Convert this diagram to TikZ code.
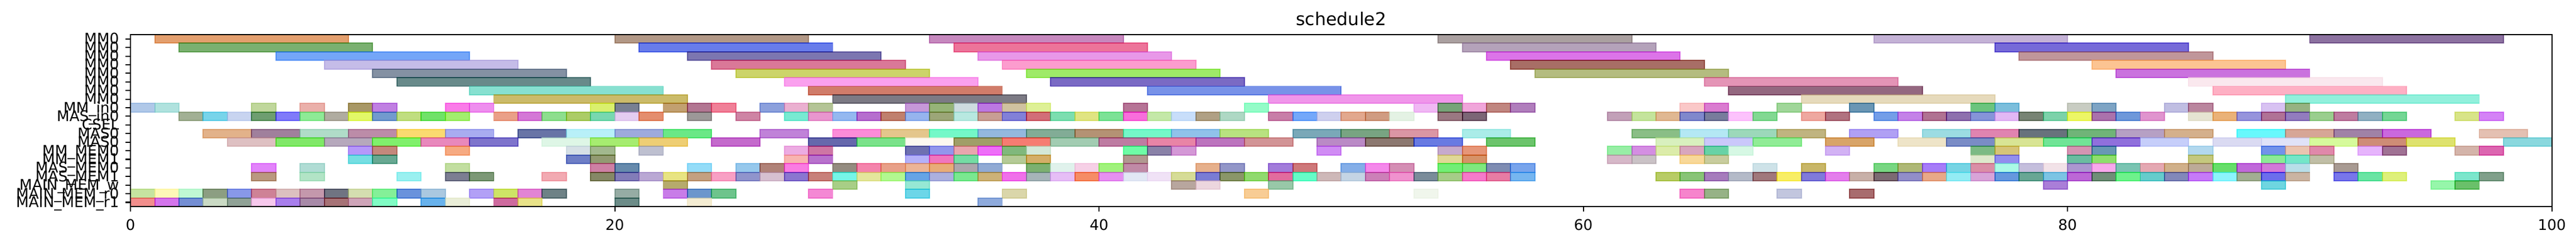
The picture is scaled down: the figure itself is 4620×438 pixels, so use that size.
\documentclass[tikz,border=0pt]{standalone}
\usepackage{fontspec}
\setmainfont{DejaVu Sans}
\tikzset{
	bar/.style={fill opacity=0.6, draw opacity=0.6, line width=0.55pt},
	spine/.style={line width=0.6pt, black},
	ylab/.style={anchor=base east, font=\fontsize{7.5}{9}\selectfont, inner sep=0pt, xshift=-0.2cm, yshift=-0.09cm},
	xlab/.style={anchor=base, font=\fontsize{7.5}{9}\selectfont, inner sep=0pt, yshift=-0.42cm},
}

\begin{document}
\begin{tikzpicture}[x=0.01cm, y=-0.01cm]
	\useasboundingbox (0,0) rectangle (4620,438);
	\begin{scope}[xshift=2.34cm, yshift=-0.62cm, x=0.434cm, y=-0.154cm]
		% row/start/end/shown R/G/B
		\foreach \row/\ts/\te/\colR/\colG/\colB in {
			0/1/9/227/159/110, 0/20/28/178/152/134, 0/33/41/198/136/190, 0/54/62/170/160/160, 0/72/80/196/178/214, 0/90/98/140/114/160,
			1/2/10/122/176/112, 1/21/29/104/124/234, 1/34/42/236/116/154, 1/55/63/180/162/186, 1/77/85/118/106/216,
			2/6/14/116/166/248, 2/23/31/124/118/176, 2/35/43/232/152/232, 2/56/64/220/116/232, 2/78/86/192/150/154,
			3/8/16/197/188/232, 3/24/32/218/120/152, 3/36/44/252/156/206, 3/57/65/168/110/102, 3/81/89/252/196/146,
			4/10/18/132/145/163, 4/25/33/204/212/106, 4/37/45/158/234/104, 4/58/66/180/188/128, 4/82/90/202/114/222,
			5/11/19/104/138/138, 5/27/35/250/160/238, 5/38/46/122/106/196, 5/65/73/228/148/182, 5/85/93/250/232/238,
			6/14/22/135/224/208, 6/28/36/208/124/106, 6/42/50/120/146/232, 6/66/74/148/104/128, 6/86/94/254/176/196,
			7/15/23/203/187/106, 7/29/37/124/122/132, 7/47/55/240/150/234, 7/69/77/230/218/188, 7/89/97/146/240/220,
			8/0/1/176/200/232, 8/1/2/176/226/222, 8/5/6/192/215/156, 8/7/8/234/176/170, 8/9/10/168/152/100, 8/10/11/192/128/226,
			8/13/14/250/124/232, 8/14/15/238/142/238, 8/19/20/218/240/110, 8/20/21/120/128/146, 8/22/23/194/160/112, 8/23/24/178/118/146,
			8/24/25/240/128/152, 8/26/27/140/160/220, 8/27/28/234/176/208, 8/28/29/180/196/150, 8/32/33/198/152/216, 8/33/34/150/180/120,
			8/34/35/206/220/224, 8/35/36/188/120/226, 8/36/37/208/194/160, 8/37/38/222/240/150, 8/41/42/182/116/150, 8/46/47/148/252/200,
			8/53/54/240/184/244, 8/54/55/118/164/120, 8/55/56/240/166/218, 8/56/57/192/134/128, 8/57/58/176/126/188, 8/64/65/250/200/200,
			8/65/66/218/124/208, 8/68/69/160/214/154, 8/71/72/106/150/180, 8/76/77/108/196/126, 8/77/78/124/190/220, 8/80/81/200/204/194,
			8/81/82/126/164/196, 8/84/85/192/190/226, 8/85/86/186/134/158, 8/88/89/216/194/242, 8/89/90/150/178/130,
			9/2/3/162/176/148, 9/3/4/120/212/234, 9/4/5/200/212/240, 9/5/6/110/158/112, 9/6/7/128/122/250, 9/7/8/142/234/150,
			9/8/9/176/172/160, 9/9/10/226/248/104, 9/10/11/114/154/206, 9/11/12/192/222/128, 9/12/13/112/226/104, 9/13/14/162/238/110,
			9/15/16/234/160/136, 9/16/17/212/120/214, 9/17/18/142/222/142, 9/18/19/172/204/98, 9/19/20/120/216/176, 9/20/21/228/204/240,
			9/21/22/228/142/110, 9/23/24/156/152/152, 9/25/26/206/132/164, 9/27/28/120/234/210, 9/28/29/232/150/206, 9/29/30/148/184/240,
			9/30/31/182/110/206, 9/31/32/192/128/110, 9/32/33/150/180/238, 9/33/34/156/166/120, 9/34/35/184/232/224, 9/35/36/200/158/148,
			9/36/37/130/128/216, 9/37/38/210/110/120, 9/38/39/124/222/176, 9/39/40/224/228/130, 9/40/41/124/226/150, 9/41/42/248/110/220,
			9/42/43/196/232/168, 9/43/44/200/222/250, 9/44/45/176/160/132, 9/45/46/174/216/196, 9/47/48/200/126/168, 9/48/49/116/168/250,
			9/49/50/206/208/238, 9/50/51/226/168/142, 9/51/52/208/156/130, 9/52/53/228/242/228, 9/54/55/154/120/130, 9/55/56/124/100/118,
			9/61/62/194/160/184, 9/62/63/196/228/156, 9/63/64/224/184/146, 9/64/65/128/136/204, 9/65/66/120/124/156, 9/66/67/252/194/252,
			9/67/68/130/216/146, 9/69/70/238/168/160, 9/70/71/176/114/128, 9/72/73/116/158/232, 9/73/74/196/130/232, 9/74/75/176/114/146,
			9/75/76/142/112/174, 9/76/77/134/148/216, 9/77/78/226/184/244, 9/78/79/120/132/116, 9/79/80/124/210/170, 9/80/81/236/246/100,
			9/81/82/170/114/172, 9/82/83/110/152/218, 9/83/84/224/148/206, 9/85/86/230/228/210, 9/86/87/234/178/120, 9/87/88/150/148/220,
			9/88/89/176/114/150, 9/89/90/146/124/190, 9/90/91/154/206/142, 9/91/92/190/124/160, 9/92/93/144/176/194, 9/93/94/116/214/148,
			9/96/97/216/228/136, 9/97/98/212/130/246,
			11/3/5/226/178/138, 11/5/7/160/128/156, 11/7/9/176/220/200, 11/9/11/188/140/168, 11/11/13/250/218/112, 11/13/15/168/172/240,
			11/16/18/104/116/166, 11/18/20/184/240/248, 11/20/22/158/170/220, 11/22/24/106/232/134, 11/26/28/192/130/216, 11/29/31/252/140/216,
			11/31/33/228/198/140, 11/33/35/116/248/200, 11/35/37/148/184/222, 11/37/39/130/172/150, 11/39/41/180/146/116, 11/41/43/116/248/200,
			11/43/45/144/194/234, 11/45/47/184/226/128, 11/48/50/122/168/184, 11/50/52/120/164/130, 11/52/54/218/150/164, 11/55/57/170/236/232,
			11/62/64/138/190/134, 11/64/66/180/232/244, 11/66/68/156/216/186, 11/68/70/192/180/128, 11/71/73/176/160/244, 11/74/76/156/220/226,
			11/76/78/224/132/176, 11/78/80/104/114/124, 11/80/82/112/180/120, 11/82/84/182/160/196, 11/84/86/212/176/140, 11/87/89/104/248/252,
			11/89/91/214/166/150, 11/91/93/160/130/166, 11/93/95/202/104/222, 11/97/99/228/192/178,
			12/4/6/222/192/194, 12/6/8/128/232/104, 12/8/10/182/168/188, 12/10/12/128/240/108, 12/12/14/232/136/188, 12/14/16/126/116/204,
			12/17/19/222/246/230, 12/19/21/166/236/112, 12/21/23/238/206/116, 12/24/26/196/106/204, 12/28/30/102/104/172, 12/30/32/122/226/138,
			12/32/34/252/248/240, 12/34/36/160/158/104, 12/36/38/246/124/114, 12/38/40/162/204/178, 12/40/42/190/124/162, 12/42/44/232/132/166,
			12/44/46/188/116/190, 12/46/48/210/148/150, 12/49/51/186/138/198, 12/51/53/140/120/112, 12/53/55/104/122/226, 12/56/58/108/196/108,
			12/63/65/216/240/190, 12/65/67/202/200/250, 12/67/69/144/236/150, 12/70/72/216/164/104, 12/73/75/238/228/200, 12/75/77/122/140/198,
			12/77/79/216/228/148, 12/79/81/112/228/150, 12/81/83/144/112/220, 12/83/85/198/206/250, 12/86/88/218/218/242, 12/88/90/224/226/248,
			12/90/92/214/250/156, 12/92/94/206/140/118, 12/94/96/222/226/110, 12/98/100/138/216/222,
			13/9/10/182/152/250, 13/10/11/196/136/124, 13/13/14/246/170/130, 13/18/19/214/224/230, 13/19/20/162/184/142, 13/21/22/190/192/208,
			13/27/28/236/172/226, 13/28/29/206/118/164, 13/32/33/110/112/176, 13/33/34/146/150/236, 13/34/35/232/166/174, 13/35/36/238/110/248,
			13/36/37/128/184/124, 13/37/38/212/232/216, 13/41/42/110/252/166, 13/42/43/138/130/168, 13/43/44/212/152/214, 13/49/50/208/140/244,
			13/54/55/198/170/204, 13/55/56/230/150/120, 13/61/62/152/238/166, 13/62/63/212/142/226, 13/63/64/220/236/170, 13/64/65/216/166/190,
			13/65/66/104/210/166, 13/66/67/214/248/228, 13/70/71/210/178/244, 13/76/77/124/186/132, 13/77/78/214/196/120, 13/80/81/212/148/178,
			13/81/82/104/152/180, 13/85/86/178/216/238, 13/88/89/114/146/234, 13/89/90/234/196/176, 13/90/91/224/136/170, 13/92/93/230/180/252,
			13/93/94/160/114/148, 13/96/97/212/180/170, 13/97/98/220/96/176,
			14/9/10/118/222/226, 14/10/11/104/168/146, 14/18/19/110/126/198, 14/19/20/146/154/114, 14/27/28/248/180/176, 14/28/29/184/114/204,
			14/32/33/180/176/248, 14/33/34/240/118/190, 14/34/35/116/220/164, 14/36/37/180/202/150, 14/37/38/212/174/104, 14/41/42/176/152/144,
			14/54/55/224/216/150, 14/55/56/214/146/104, 14/61/62/214/184/200, 14/62/63/202/194/198, 14/64/65/248/216/152, 14/65/66/200/204/158,
			14/76/77/222/232/204, 14/77/78/146/142/238, 14/80/81/106/188/160, 14/81/82/142/222/110, 14/85/86/196/200/126, 14/88/89/140/234/150,
			14/89/90/116/230/200, 14/90/91/192/190/166,
			15/5/6/226/132/250, 15/7/8/176/220/212, 15/13/14/194/222/160, 15/19/20/206/128/164, 15/20/21/100/138/172, 15/23/24/148/220/248,
			15/25/26/150/200/236, 15/26/27/176/130/120, 15/27/28/250/124/226, 15/29/30/148/140/128, 15/30/31/244/132/172, 15/31/32/232/160/136,
			15/32/33/236/180/150, 15/33/34/232/172/120, 15/34/35/172/166/172, 15/35/36/144/170/212, 15/37/38/124/176/112, 15/38/39/224/242/236,
			15/39/40/246/208/230, 15/40/41/160/242/124, 15/41/42/192/138/166, 15/44/45/230/176/140, 15/45/46/146/150/200, 15/47/48/162/124/218,
			15/48/49/206/120/122, 15/50/51/132/174/232, 15/51/52/244/136/234, 15/52/53/212/142/180, 15/54/55/114/238/118, 15/55/56/126/232/126,
			15/56/57/126/140/178, 15/57/58/120/164/236, 15/67/68/206/226/232, 15/69/70/200/182/104, 15/72/73/120/214/130, 15/73/74/174/184/118,
			15/74/75/166/124/248, 15/75/76/118/212/228, 15/76/77/218/142/166, 15/77/78/170/250/230, 15/78/79/196/190/220, 15/79/80/242/226/232,
			15/80/81/172/150/208, 15/81/82/248/168/236, 15/82/83/122/196/178, 15/83/84/228/168/178, 15/84/85/208/176/138, 15/85/86/188/170/152,
			15/86/87/98/222/106, 15/87/88/192/104/218, 15/88/89/210/120/216, 15/89/90/184/222/232, 15/91/92/168/154/146,
			16/5/6/186/152/128, 16/7/8/178/228/198, 16/11/12/154/240/240, 16/13/14/124/126/146, 16/14/15/124/152/118, 16/17/18/242/170/178,
			16/19/20/134/136/92, 16/20/21/130/124/184, 16/21/22/186/168/212, 16/22/23/232/228/130, 16/23/24/196/160/128, 16/24/25/248/160/196,
			16/25/26/144/148/204, 16/26/27/214/192/208, 16/27/28/138/118/208, 16/28/29/200/128/122, 16/29/30/118/246/232, 16/30/31/228/230/156,
			16/31/32/178/248/144, 16/32/33/98/164/230, 16/33/34/172/176/222, 16/34/35/122/232/144, 16/35/36/204/178/120, 16/36/37/240/112/234,
			16/37/38/166/180/184, 16/38/39/230/190/246, 16/39/40/246/140/100, 16/40/41/230/144/240, 16/41/42/226/232/244, 16/42/43/240/226/246,
			16/43/44/214/220/150, 16/44/45/122/124/212, 16/45/46/138/150/104, 16/46/47/144/218/110, 16/47/48/226/108/158, 16/48/49/100/252/200,
			16/49/50/206/184/184, 16/50/51/196/212/228, 16/51/52/204/128/184, 16/52/53/240/146/206, 16/53/54/122/140/154, 16/54/55/166/204/136,
			16/55/56/246/122/202, 16/56/57/232/124/164, 16/57/58/118/182/240, 16/63/64/184/204/100, 16/64/65/136/196/118, 16/65/66/166/124/188,
			16/66/67/180/186/200, 16/67/68/160/120/124, 16/68/69/248/238/98, 16/69/70/128/122/218, 16/70/71/228/126/236, 16/71/72/200/176/168,
			16/72/73/124/106/114, 16/73/74/146/142/200, 16/74/75/232/168/136, 16/75/76/148/236/244, 16/76/77/216/164/216, 16/77/78/102/152/222,
			16/78/79/104/166/148, 16/79/80/124/196/228, 16/80/81/188/104/214, 16/81/82/112/142/120, 16/82/83/110/242/140, 16/83/84/100/204/204,
			16/84/85/130/136/186, 16/85/86/198/122/248, 16/86/87/140/244/252, 16/87/88/162/174/146, 16/88/89/108/110/236, 16/89/90/202/180/162,
			16/91/92/120/118/234, 16/92/93/106/228/164, 16/93/94/222/240/122, 16/96/97/124/230/204, 16/97/98/128/160/138,
			17/22/23/182/170/108, 17/29/30/168/206/134, 17/32/33/150/232/212, 17/43/44/184/166/158, 17/44/45/236/214/222, 17/47/48/152/200/168,
			17/79/80/170/126/216, 17/88/89/110/214/224, 17/95/96/150/246/170, 17/96/97/106/192/106,
			18/0/1/198/228/160, 18/1/2/254/248/184, 18/2/3/192/248/212, 18/3/4/140/158/130, 18/4/5/136/152/232, 18/5/6/206/130/150,
			18/6/7/220/192/192, 18/7/8/196/152/172, 18/8/9/112/116/130, 18/9/10/212/222/176, 18/10/11/132/240/152, 18/11/12/106/146/220,
			18/12/13/170/200/224, 18/14/15/178/160/246, 18/15/16/206/228/100, 18/16/17/226/132/212, 18/17/18/110/130/134, 18/20/21/150/172/164,
			18/22/23/200/124/232, 18/23/24/108/150/204, 18/24/25/110/196/140, 18/28/29/244/136/212, 18/32/33/108/214/232, 18/36/37/218/214/170,
			18/46/47/248/204/148, 18/53/54/240/246/236, 18/64/65/246/132/204, 18/65/66/150/178/134, 18/68/69/194/198/222, 18/71/72/168/108/110,
			19/0/1/242/142/140, 19/1/2/212/116/236, 19/2/3/116/142/212, 19/3/4/202/218/196, 19/4/5/144/162/150, 19/5/6/246/200/236,
			19/6/7/168/126/236, 19/7/8/168/138/168, 19/8/9/166/114/118, 19/9/10/206/164/184, 19/10/11/128/252/196, 19/12/13/104/178/236,
			19/13/14/234/238/216, 19/15/16/206/106/158, 19/16/17/232/226/136, 19/20/21/108/140/136, 19/23/24/244/236/210, 19/35/36/142/170/220
		}{
			\pgfmathtruncatemacro\baseR{max(0,min(255,(\colR-102)/0.6))}
			\pgfmathtruncatemacro\baseG{max(0,min(255,(\colG-102)/0.6))}
			\pgfmathtruncatemacro\baseB{max(0,min(255,(\colB-102)/0.6))}
			\definecolor{barcol}{RGB}{\baseR,\baseG,\baseB}
			\draw[bar, draw=barcol, fill=barcol] (\ts,\row) rectangle (\te,\row+1);
		}
		\draw[spine] (0,0) rectangle (100,20);
		\foreach \lab [count=\i from 0] in {MM0,MM0,MM0,MM0,MM0,MM0,MM0,MM0,MM\_in0,MAS\_in0,CSEL,MAS0,MAS0,
				MM\_MEM0,MM\_MEM1,MAS\_MEM0,MAS\_MEM1,MAIN\_MEM\_w,MAIN\_MEM\_r0,MAIN\_MEM\_r1}{
			\draw[spine] (0,\i+0.5) -- ++(-0.09cm,0);
			\node[ylab] (lab\i) at (0,\i+0.5) {\lab};
		}
		\foreach \t in {0,20,...,100}{
			\draw[spine] (\t,20) -- ++(0,-0.09cm);
			\node[xlab] (xt\t) at (\t,20) {\t};
		}
		\node[anchor=base, inner sep=0pt, font=\fontsize{9}{11}\selectfont, yshift=0.17cm] (title) at (50,0) {schedule2};
	\end{scope}
\end{tikzpicture}
\end{document}
